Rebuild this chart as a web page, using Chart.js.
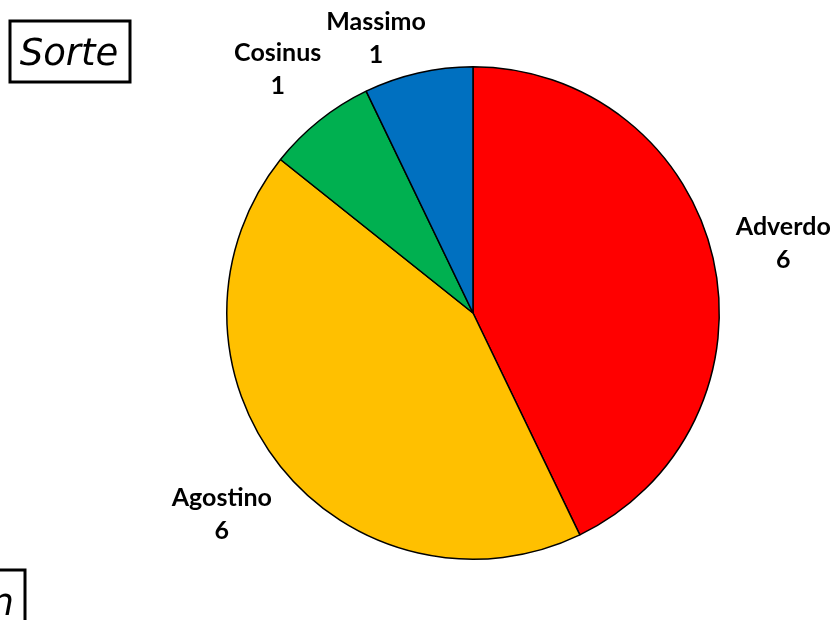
<!DOCTYPE html>
<html>
<head>
<meta charset="utf-8">
<script src="https://cdn.jsdelivr.net/npm/chart.js@4"></script>
<style>
  html, body { margin: 0; padding: 0; background: #fff; }
  #wrap { width: 840px; height: 620px; position: relative; }
</style>
</head>
<body>
<div id="wrap"><canvas id="pie" width="840" height="620"></canvas></div>
<script>
// data
const labels = ['Adverdo', 'Agostino', 'Cosinus', 'Massimo'];
const values = [6, 6, 1, 1];
const sliceColors = ['#FF0000', '#FFC000', '#00B050', '#0070C0'];
const titleText = 'Sorte';
const footText = 'n';

// boxed italic captions (title top left, cut-off box bottom left)
const boxes = {
  id: 'boxes',
  afterDraw(chart) {
    const ctx = chart.ctx;
    ctx.save();
    ctx.lineWidth = 3;
    ctx.strokeStyle = '#000';
    ctx.fillStyle = '#000';
    ctx.font = 'italic 37px "DejaVu Sans"';
    ctx.textBaseline = 'alphabetic';
    ctx.strokeRect(10, 21, 120, 61);
    ctx.textAlign = 'center';
    ctx.fillText(titleText, 69, 65);
    ctx.strokeRect(-40, 570, 65, 80);
    ctx.textAlign = 'right';
    ctx.fillText(footText, 14, 615);
    ctx.restore();
  }
};

// outside labels (name + value), excel "best fit" like
const outLabels = {
  id: 'outLabels',
  afterDatasetsDraw(chart) {
    const ctx = chart.ctx;
    const meta = chart.getDatasetMeta(0);
    const capH = 18, lineH = 33, gap = 20, topGap = 8, minTop = 12;
    ctx.save();
    ctx.font = 'bold 25px Lato';
    ctx.fillStyle = '#000';
    ctx.textAlign = 'center';
    ctx.textBaseline = 'alphabetic';
    const clearance = (bx, by, w, h) => {
      const nx = Math.max(bx - w / 2, Math.min(0, bx + w / 2));
      const ny = Math.max(by - h / 2, Math.min(0, by + h / 2));
      return Math.hypot(nx, ny);
    };
    meta.data.forEach((arc, i) => {
      const p = arc.getProps(['x', 'y', 'startAngle', 'endAngle', 'outerRadius'], true);
      const mid = (p.startAngle + p.endAngle) / 2;
      const c = Math.cos(mid), s = Math.sin(mid);
      const l1 = labels[i], l2 = String(values[i]);
      const w = Math.max(ctx.measureText(l1).width, ctx.measureText(l2).width);
      const h = capH + lineH;
      let t = p.outerRadius;
      while (t < p.outerRadius + 200 && clearance(t * c, t * s, w, h) <= p.outerRadius + gap) t++;
      let bx = t * c, by = t * s;
      if (p.y + by - h / 2 < minTop) {
        // no room above: pin to top and slide sideways
        by = minTop + h / 2 - p.y;
        const dir = c < 0 ? -1 : 1;
        bx = 0;
        while (Math.abs(bx) < 400 && clearance(bx, by, w, h) <= p.outerRadius + topGap) bx += dir;
      }
      const cx = p.x + bx, top = p.y + by - h / 2;
      ctx.fillText(l1, cx, top + capH);
      ctx.fillText(l2, cx, top + capH + lineH);
    });
    ctx.restore();
  }
};

new Chart(document.getElementById('pie').getContext('2d'), {
  type: 'pie',
  data: {
    labels,
    datasets: [{
      data: values,
      backgroundColor: sliceColors,
      borderColor: '#000',
      borderWidth: 1.5
    }]
  },
  options: {
    responsive: false,
    animation: false,
    layout: { padding: { left: 226, right: 120, top: 66, bottom: 60 } },
    plugins: {
      legend: { display: false },
      tooltip: { enabled: false },
      title: { display: false }
    }
  },
  plugins: [outLabels, boxes]
});
</script>
</body>
</html>
